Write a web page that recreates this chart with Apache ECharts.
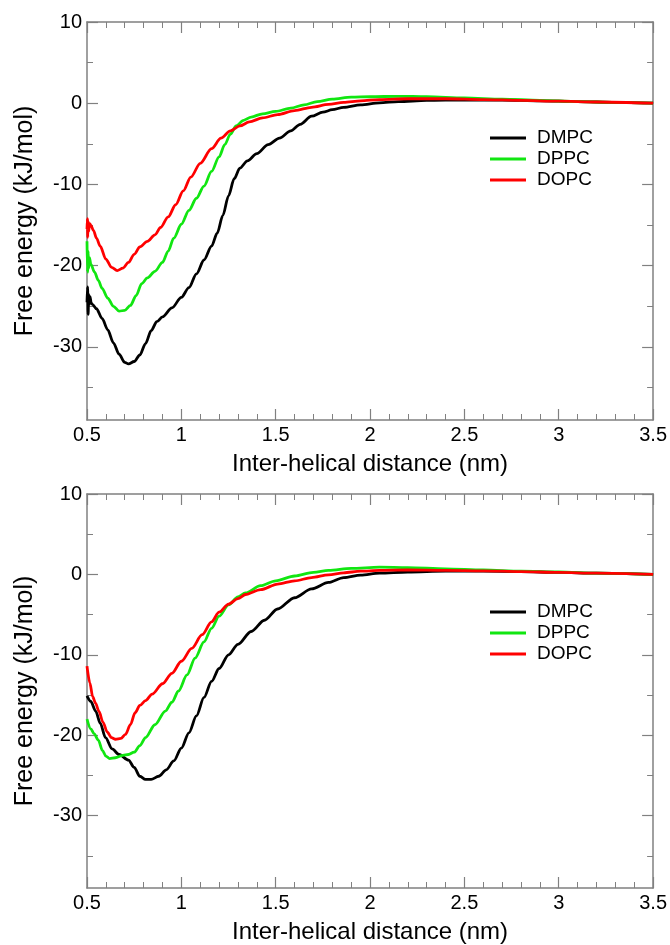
<!DOCTYPE html>
<html>
<head>
<meta charset="utf-8">
<script src="https://cdn.jsdelivr.net/npm/echarts@6/dist/echarts.min.js"></script>
<style>
html,body{margin:0;padding:0;background:#fff;}
#chart{width:670px;height:945px;}
</style>
</head>
<body>
<div id="chart"></div>
<script>
// ---- Data (x in nm, free energy in kJ/mol) ----
const seriesNames = ['DMPC', 'DPPC', 'DOPC'];
const seriesColors = ['#000000', '#11e611', '#ff0000'];

const xTickLabels = [0.5, 1, 1.5, 2, 2.5, 3, 3.5];
const yTickLabels = [10, 0, -10, -20, -30];
const yMinorTicks = [5, -5, -15, -25, -35];

const xTitle = 'Inter-helical distance (nm)';
const yTitle = 'Free energy (kJ/mol)';

// Top panel
const topDMPC = [[0.500,-24.5],[0.503,-22.6],[0.506,-26.0],[0.509,-23.5],[0.512,-24.8],[0.516,-23.8],[0.522,-24.6],[0.53,-24.8],[0.55,-25.3],[0.58,-26.5],[0.61,-27.9],[0.64,-29.5],[0.67,-30.9],[0.70,-31.9],[0.72,-32.1],[0.75,-31.8],[0.78,-31.0],[0.81,-29.6],[0.84,-28.0],[0.87,-26.9],[0.9,-26.3],[0.95,-25.2],[1.0,-23.9],[1.04,-22.7],[1.08,-21.0],[1.12,-19.3],[1.16,-17.6],[1.19,-16.0],[1.22,-13.8],[1.25,-11.4],[1.28,-9.3],[1.31,-8.0],[1.35,-7.1],[1.4,-6.2],[1.46,-5.1],[1.52,-4.3],[1.58,-3.4],[1.63,-2.6],[1.69,-1.6],[1.75,-1.1],[1.8,-0.8],[1.86,-0.5],[1.95,-0.2],[2.05,0.05],[2.15,0.2],[2.3,0.35],[2.5,0.4],[2.7,0.4],[2.9,0.3],[3.1,0.2],[3.3,0.1],[3.5,0.0]];
const topDPPC = [[0.500,-17.0],[0.503,-20.8],[0.506,-18.2],[0.509,-20.3],[0.513,-19.0],[0.52,-19.8],[0.54,-20.8],[0.56,-21.8],[0.58,-22.8],[0.61,-24.0],[0.64,-25.0],[0.67,-25.6],[0.7,-25.5],[0.73,-24.9],[0.76,-23.7],[0.79,-22.2],[0.82,-21.5],[0.86,-20.7],[0.9,-19.6],[0.93,-18.2],[0.96,-16.6],[1.0,-14.9],[1.04,-13.2],[1.08,-11.7],[1.12,-10.2],[1.16,-8.4],[1.2,-6.6],[1.23,-5.1],[1.26,-3.8],[1.29,-2.8],[1.33,-2.1],[1.37,-1.7],[1.43,-1.3],[1.5,-1.0],[1.58,-0.6],[1.65,-0.2],[1.72,0.2],[1.8,0.5],[1.9,0.75],[2.0,0.8],[2.15,0.85],[2.3,0.8],[2.5,0.65],[2.7,0.5],[2.9,0.35],[3.1,0.2],[3.3,0.1],[3.5,0.0]];
const topDOPC = [[0.500,-15.5],[0.502,-14.2],[0.504,-16.5],[0.506,-14.5],[0.509,-15.8],[0.513,-14.8],[0.52,-15.0],[0.535,-15.7],[0.55,-16.6],[0.57,-17.6],[0.6,-19.2],[0.63,-20.2],[0.66,-20.6],[0.69,-20.3],[0.72,-19.6],[0.75,-18.6],[0.78,-17.7],[0.82,-17.0],[0.86,-16.2],[0.89,-15.3],[0.93,-14.0],[0.97,-12.5],[1.01,-10.8],[1.05,-9.1],[1.1,-7.4],[1.16,-5.6],[1.21,-4.3],[1.26,-3.4],[1.31,-2.8],[1.36,-2.3],[1.43,-1.8],[1.51,-1.4],[1.6,-0.9],[1.69,-0.5],[1.78,-0.15],[1.86,0.1],[1.95,0.3],[2.05,0.45],[2.2,0.55],[2.4,0.55],[2.6,0.45],[2.8,0.35],[3.0,0.25],[3.2,0.15],[3.5,0.0]];

// Bottom panel
const botDMPC = [[0.5,-15.1],[0.52,-15.8],[0.546,-17.0],[0.57,-18.5],[0.598,-20.3],[0.633,-21.7],[0.67,-22.4],[0.72,-23.1],[0.75,-24.0],[0.78,-25.1],[0.81,-25.5],[0.84,-25.5],[0.88,-25.1],[0.92,-24.3],[0.96,-23.2],[1.0,-21.6],[1.04,-19.7],[1.08,-17.6],[1.12,-15.3],[1.16,-13.3],[1.2,-11.7],[1.25,-10.0],[1.3,-8.7],[1.37,-7.1],[1.44,-5.7],[1.51,-4.3],[1.6,-2.9],[1.69,-1.8],[1.78,-1.0],[1.86,-0.4],[1.95,-0.1],[2.05,0.15],[2.2,0.3],[2.4,0.4],[2.6,0.4],[2.8,0.35],[3.0,0.25],[3.2,0.15],[3.5,0.0]];
const botDPPC = [[0.5,-18.0],[0.52,-19.2],[0.537,-19.8],[0.56,-20.6],[0.582,-21.9],[0.6,-22.6],[0.62,-22.9],[0.65,-22.8],[0.69,-22.5],[0.72,-22.4],[0.75,-22.1],[0.78,-21.3],[0.81,-20.3],[0.86,-18.7],[0.915,-17.0],[0.95,-15.9],[0.985,-14.5],[1.03,-12.5],[1.073,-10.4],[1.12,-8.4],[1.16,-6.7],[1.2,-5.2],[1.25,-3.8],[1.3,-2.8],[1.34,-2.3],[1.42,-1.4],[1.5,-0.8],[1.6,-0.2],[1.7,0.25],[1.78,0.5],[1.9,0.75],[2.05,0.9],[2.2,0.85],[2.4,0.7],[2.6,0.55],[2.8,0.4],[3.0,0.3],[3.2,0.15],[3.5,0.0]];
const botDOPC = [[0.5,-11.4],[0.515,-13.5],[0.53,-15.2],[0.545,-16.0],[0.563,-17.0],[0.585,-18.4],[0.607,-19.6],[0.63,-20.3],[0.651,-20.5],[0.68,-20.4],[0.704,-19.9],[0.73,-18.7],[0.755,-17.2],[0.78,-16.3],[0.81,-15.7],[0.845,-14.9],[0.9,-13.6],[0.95,-12.3],[1.0,-10.8],[1.055,-9.2],[1.11,-7.5],[1.16,-5.9],[1.2,-4.7],[1.25,-3.7],[1.3,-3.0],[1.34,-2.5],[1.42,-1.9],[1.51,-1.2],[1.6,-0.8],[1.69,-0.4],[1.78,-0.05],[1.86,0.2],[1.95,0.4],[2.05,0.5],[2.2,0.55],[2.4,0.5],[2.6,0.45],[2.8,0.35],[3.0,0.25],[3.2,0.15],[3.5,0.0]];

const panels = [[topDMPC, topDPPC, topDOPC], [botDMPC, botDPPC, botDOPC]];

// ---- Layout ----
const FONT = '"Liberation Sans", Arial, Helvetica, sans-serif';
const AXIS_COLOR = '#808080';
const gridTops = [22, 494];
const GRID_LEFT = 87, GRID_W = 567, GRID_H = 398;
const X_MIN = 0.5, X_MAX = 3.5, Y_MIN = -39, Y_MAX = 10;
const legendTops = [128, 602];

const grids = [], xAxes = [], yAxes = [], series = [], legends = [];

panels.forEach((panel, g) => {
  grids.push({left: GRID_LEFT, top: gridTops[g], width: GRID_W, height: GRID_H, containLabel: false});

  ['bottom', 'top'].forEach(pos => {
    xAxes.push({
      type: 'value', gridIndex: g, position: pos,
      min: X_MIN, max: X_MAX, interval: 0.5,
      name: pos === 'bottom' ? xTitle : '',
      nameLocation: 'middle', nameGap: 32,
      nameTextStyle: {fontFamily: FONT, fontSize: 24, color: '#000'},
      axisLine: {show: true, onZero: false, lineStyle: {color: AXIS_COLOR, width: 1.5}},
      axisTick: {show: true, inside: true, length: 11, lineStyle: {color: AXIS_COLOR, width: 1.2}},
      minorTick: {show: true, splitNumber: 5, length: 6, lineStyle: {color: AXIS_COLOR, width: 1}},
      axisLabel: {show: pos === 'bottom', fontFamily: FONT, fontSize: 20, color: '#000', margin: 5,
                  customValues: xTickLabels, showMinLabel: true, showMaxLabel: true},
      splitLine: {show: false}
    });
  });

  ['left', 'right'].forEach(pos => {
    yAxes.push({
      type: 'value', gridIndex: g, position: pos,
      min: Y_MIN, max: Y_MAX,
      name: pos === 'left' ? yTitle : '',
      nameLocation: 'middle', nameGap: 49,
      nameTextStyle: {fontFamily: FONT, fontSize: 25, color: '#000'},
      axisLine: {show: true, onZero: false, lineStyle: {color: AXIS_COLOR, width: 1.5}},
      axisTick: {show: true, inside: true, length: 11, customValues: yTickLabels, lineStyle: {color: AXIS_COLOR, width: 1.2}},
      axisLabel: {show: pos === 'left', fontFamily: FONT, fontSize: 20, color: '#000', margin: 5, customValues: yTickLabels},
      splitLine: {show: false}
    });
    yAxes.push({
      type: 'value', gridIndex: g, position: pos,
      min: Y_MIN, max: Y_MAX,
      axisLine: {show: false},
      axisTick: {show: true, inside: true, length: 6, customValues: yMinorTicks, lineStyle: {color: AXIS_COLOR, width: 1}},
      axisLabel: {show: false},
      splitLine: {show: false}
    });
  });

  panel.forEach((data, k) => {
    series.push({
      type: 'line', name: seriesNames[k],
      xAxisIndex: g * 2, yAxisIndex: g * 4,
      data: data, showSymbol: false, smooth: 0.3, smoothMonotone: 'x',
      lineStyle: {color: seriesColors[k], width: 2.8},
      itemStyle: {color: seriesColors[k]},
      z: 3 + k, silent: true
    });
  });

  legends.push({
    show: true, orient: 'vertical', left: 490, top: legendTops[g], padding: 0,
    itemWidth: 36, itemHeight: 3, itemGap: 1, icon: 'rect',
    data: seriesNames.map((n, k) => ({name: n, itemStyle: {color: seriesColors[k]}})),
    textStyle: {fontFamily: FONT, fontSize: 19, color: '#000', lineHeight: 20, padding: [0, 0, 0, 6]},
    selectedMode: false
  });
});

const chart = echarts.init(document.getElementById('chart'), null, {renderer: 'canvas'});
chart.setOption({
  backgroundColor: '#ffffff',
  animation: false,
  grid: grids,
  xAxis: xAxes,
  yAxis: yAxes,
  legend: legends,
  series: series
});
</script>
</body>
</html>
